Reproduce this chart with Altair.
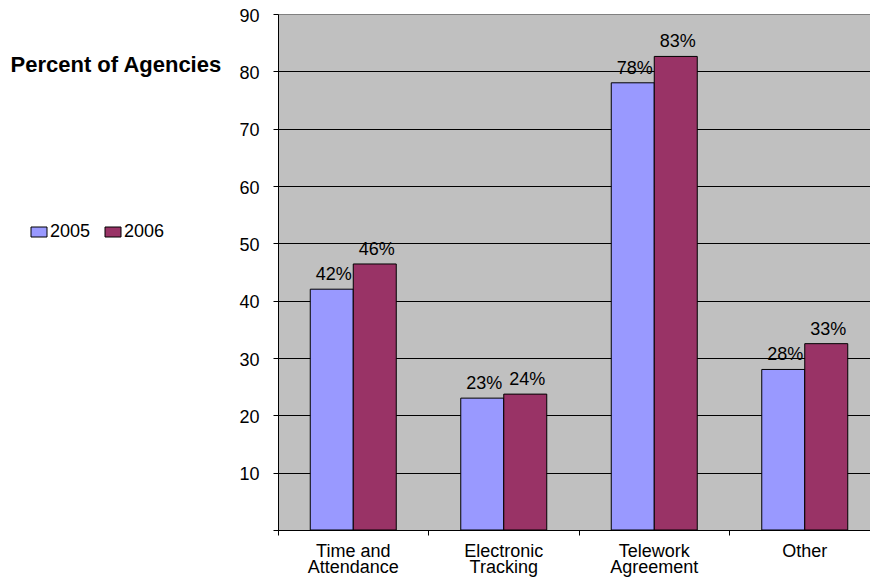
import altair as alt
import pandas as pd

categories = ["Time and\nAttendance", "Electronic\nTracking", "Telework\nAgreement", "Other"]
years = ["2005", "2006"]
values_2005 = [42, 23, 78, 28]
values_2006 = [46.4, 23.7, 82.6, 32.5]
labels_2005 = ["42%", "23%", "78%", "28%"]
labels_2006 = ["46%", "24%", "83%", "33%"]
colors = ["#9999FF", "#993366"]
y_ticks = [0, 10, 20, 30, 40, 50, 60, 70, 80, 90]

rows = []
for i, c in enumerate(categories):
    rows.append({"category": c, "year": "2005", "value": values_2005[i], "label": labels_2005[i]})
    rows.append({"category": c, "year": "2006", "value": values_2006[i], "label": labels_2006[i]})
df = pd.DataFrame(rows)

FONT = "Liberation Sans, Arial, sans-serif"

x_enc = alt.X(
    "category:N",
    sort=categories,
    scale=alt.Scale(range=[0, 602], paddingInner=0, paddingOuter=0),
    axis=alt.Axis(
        title=None,
        bandPosition=0,
        labelAngle=0,
        labelFont=FONT,
        labelFontSize=18,
        labelColor="black",
        labelLineHeight=16,
        labelPadding=7,
        labelBaseline="top",
        labelOverlap=False,
        labelExpr="split(datum.label, '\\n')",
        domainColor="black",
        tickColor="black",
        tickSize=5,
        grid=False,
    ),
)
xoff_enc = alt.XOffset("year:N", sort=years, scale=alt.Scale(paddingOuter=0.75, paddingInner=0))
y_enc = alt.Y(
    "value:Q",
    scale=alt.Scale(domain=[0, 90], nice=False),
    axis=alt.Axis(
        values=y_ticks,
        title="Percent of Agencies",
        titleAngle=0,
        titleAlign="left",
        titleBaseline="alphabetic",
        titleX=-268,
        titleY=57,
        titleFont=FONT,
        titleFontSize=22,
        titleFontWeight="bold",
        titleColor="black",
        labelFont=FONT,
        labelFontSize=18,
        labelColor="black",
        labelPadding=14,
        labelOffset=2,
        labelExpr="datum.value == 0 ? '' : datum.label",
        domainColor="black",
        tickColor="black",
        tickSize=5,
        grid=True,
        gridColor={"condition": {"test": "datum.value == 90", "value": "#808080"}, "value": "black"},
        gridWidth=1,
    ),
)

bars = alt.Chart(df).mark_bar(stroke="black", strokeWidth=1, opacity=1).encode(
    x=x_enc,
    xOffset=xoff_enc,
    y=y_enc,
    color=alt.Color(
        "year:N",
        scale=alt.Scale(domain=years, range=colors),
        legend=alt.Legend(
            orient="none",
            legendX=-248,
            legendY=209,
            direction="horizontal",
            title=None,
            symbolType="M-1,-0.625H1V0.625H-1Z",
            symbolSize=256,
            symbolStrokeColor="black",
            symbolStrokeWidth=1,
            symbolOpacity=1,
            labelFont=FONT,
            labelFontSize=18,
            labelColor="black",
            labelOffset=2,
            columnPadding=12,
            padding=0,
        ),
    ),
)

texts = alt.Chart(df).mark_text(
    dy=-9, dx=2, fontSize=18, font=FONT, color="black", baseline="alphabetic"
).encode(
    x=alt.X("category:N", sort=categories),
    xOffset=alt.XOffset("year:N", sort=years),
    y=alt.Y("value:Q"),
    text="label:N",
)

chart = alt.layer(bars, texts).properties(
    width=592,
    height=516,
    autosize=alt.AutoSizeParams(type="none"),
    padding={"left": 278, "top": 14, "right": 0, "bottom": 56},
    background="white",
).configure_view(fill="#C0C0C0", stroke=None)

chart.save("out.html", embed_options={"renderer": "svg", "actions": False})
